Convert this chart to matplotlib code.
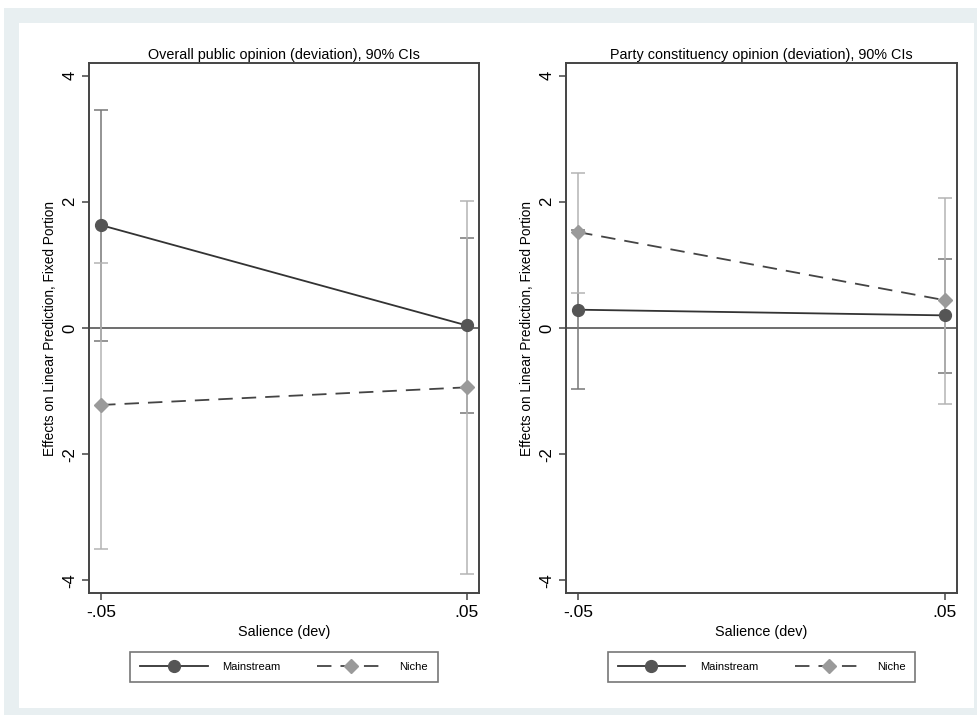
import matplotlib
matplotlib.use("Agg")
import matplotlib.pyplot as plt
from matplotlib.patches import Rectangle

plt.rcParams.update({
    "font.family": ["Liberation Sans", "DejaVu Sans"],
    "axes.linewidth": 1.4,
    "axes.edgecolor": "#444444",
    "xtick.color": "#444444",
    "ytick.color": "#444444",
    "xtick.labelcolor": "black",
    "ytick.labelcolor": "black",
})

# Salience (dev) values
salience = [-0.05, 0.05]
xtick_labels = ["-.05", ".05"]
yticks = [-4, -2, 0, 2, 4]

# Overall public opinion panel
overall_main = [1.63, 0.04]
overall_main_lo = [-0.21, -1.35]
overall_main_hi = [3.46, 1.42]
overall_niche = [-1.22, -0.94]
overall_niche_lo = [-3.50, -3.90]
overall_niche_hi = [1.03, 2.01]

# Party constituency opinion panel
party_main = [0.29, 0.20]
party_main_lo = [-0.97, -0.72]
party_main_hi = [1.55, 1.10]
party_niche = [1.52, 0.44]
party_niche_lo = [0.56, -1.21]
party_niche_hi = [2.46, 2.06]

titles = ["Overall public opinion (deviation), 90% CIs",
          "Party constituency opinion (deviation), 90% CIs"]

MAIN_CI = "#767676"
NICHE_CI = "#b4b4b4"

fig = plt.figure(figsize=(9.77, 7.15), dpi=100)
fig.patch.set_facecolor("white")

# Stata-style frame: light band with white inner panel
fig.patches.append(Rectangle((4 / 977, 0), 973 / 977, 707 / 715,
                             transform=fig.transFigure, facecolor="#e8eff1",
                             edgecolor="none", zorder=-2))
fig.patches.append(Rectangle((19 / 977, 7 / 715), 955 / 977, 685 / 715,
                             transform=fig.transFigure, facecolor="white",
                             edgecolor="none", zorder=-1))

ax_pos = [[89 / 977, 122 / 715, 390 / 977, 530 / 715],
          [566 / 977, 122 / 715, 391 / 977, 530 / 715]]

panels = [
    (overall_main, overall_main_lo, overall_main_hi,
     overall_niche, overall_niche_lo, overall_niche_hi),
    (party_main, party_main_lo, party_main_hi,
     party_niche, party_niche_lo, party_niche_hi),
]


def err(vals, lo, hi):
    return [[v - l for v, l in zip(vals, lo)], [h - v for v, h in zip(vals, hi)]]


for pos, title, (m, mlo, mhi, n, nlo, nhi) in zip(ax_pos, titles, panels):
    ax = fig.add_axes(pos)
    ax.axhline(0, color="#555555", lw=1.2, zorder=1)

    ax.errorbar(salience, m, yerr=err(m, mlo, mhi), fmt="none",
                ecolor=MAIN_CI, elinewidth=1.1, capsize=5, capthick=1.1, zorder=2)
    ax.errorbar(salience, n, yerr=err(n, nlo, nhi), fmt="none",
                ecolor=NICHE_CI, elinewidth=1.1, capsize=5, capthick=1.1, zorder=2)

    ax.plot(salience, m, color="#333333", lw=1.3, marker="o", ms=8.5,
            mfc="#555555", mec="#555555", label="Mainstream", zorder=4)
    ax.plot(salience, n, color="#444444", lw=1.3, ls=(0, (8, 5)), marker="D",
            ms=7.5, mfc="#9a9a9a", mec="#9a9a9a", label="Niche", zorder=3)

    ax.set_xlim(-0.0533, 0.0533)
    ax.set_ylim(-4.2, 4.2)
    ax.set_xticks(salience)
    ax.set_xticklabels(xtick_labels, fontsize=12.5)
    ax.set_yticks(yticks)
    ax.set_yticklabels([str(t) for t in yticks], fontsize=12, rotation=90, va="center")
    ax.tick_params(direction="out", length=5, width=1.1)
    ax.set_xlabel("Salience (dev)", fontsize=10.4, labelpad=4)
    ax.set_ylabel("Effects on Linear Prediction, Fixed Portion", fontsize=9.8, labelpad=4)
    ax.set_title(title, fontsize=10.4, pad=3)

    leg = ax.legend(loc="center", bbox_to_anchor=(0.5, -0.14), ncol=2,
                    fontsize=8, handlelength=6.1, columnspacing=3.3,
                    handletextpad=1.3, borderpad=0.9, fancybox=False,
                    edgecolor="#777777", framealpha=1)
    leg.get_frame().set_linewidth(1.2)

fig.savefig("out.png", dpi=100, facecolor=fig.get_facecolor())
